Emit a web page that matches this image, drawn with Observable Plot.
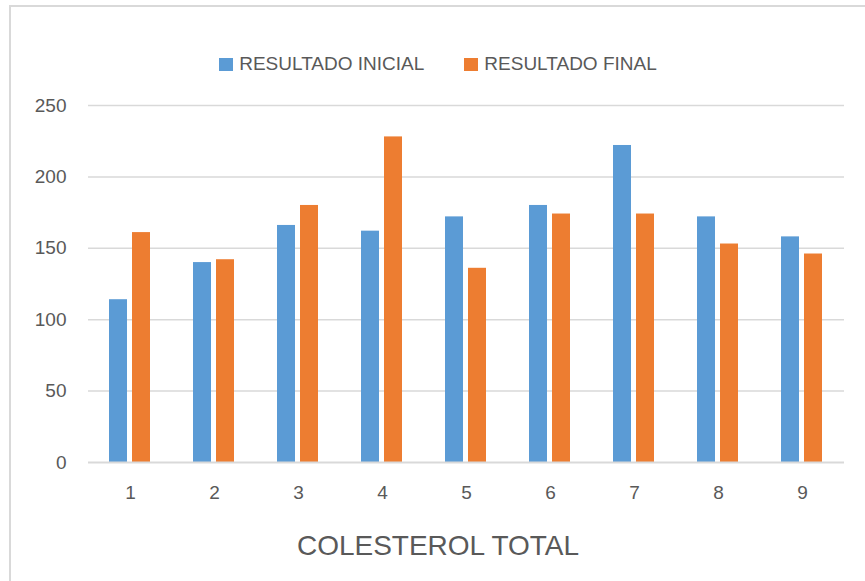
<!DOCTYPE html>
<html>
<head>
<meta charset="utf-8">
<script src="https://cdn.jsdelivr.net/npm/d3@7"></script>
<script src="https://cdn.jsdelivr.net/npm/@observablehq/plot@0.6"></script>
<style>
  html, body { margin: 0; padding: 0; background: #fff; overflow: hidden; width: 865px; height: 581px; }
  #frame {
    position: absolute; left: 9px; top: 5px;
    width: 854px; height: 600px;
    border: 2px solid #D9D9D9;
    background: #fff;
    font-family: "Liberation Sans", Arial, sans-serif;
    color: #595959;
  }
  #legend {
    height: 78px; box-sizing: border-box; padding-top: 46px;
    display: flex; justify-content: center; align-items: flex-start;
    font-size: 19px; line-height: 22px;
  }
  .item { display: flex; align-items: center; }
  .item + .item { margin-left: 40px; }
  .sw { width: 14px; height: 13px; margin-right: 6px; }
  #title { height: 62px; line-height: 62px; text-align: center; font-size: 28px; }
</style>
</head>
<body>
<div id="frame">
  <div id="legend"></div>
  <div id="chart"></div>
  <div id="title">COLESTEROL TOTAL</div>
</div>
<script>
const categories = ["1", "2", "3", "4", "5", "6", "7", "8", "9"];
const seriesNames = ["RESULTADO INICIAL", "RESULTADO FINAL"];
const inicial = [114, 140, 166, 162, 172, 180, 222, 172, 158];
const final = [161, 142, 180, 228, 136, 174, 174, 153, 146];
const yTicks = [0, 50, 100, 150, 200, 250];
const colors = ["#5B9BD5", "#ED7D31"];

const rows = [];
categories.forEach((c, i) => {
  rows.push({cat: c, series: seriesNames[0], value: inicial[i]});
  rows.push({cat: c, series: seriesNames[1], value: final[i]});
});

// legend
const legend = document.getElementById("legend");
seriesNames.forEach((s, i) => {
  const it = document.createElement("div");
  it.className = "item";
  const sw = document.createElement("div");
  sw.className = "sw";
  sw.style.background = colors[i];
  const t = document.createElement("span");
  t.textContent = s;
  it.appendChild(sw); it.appendChild(t);
  legend.appendChild(it);
});

const chart = Plot.plot({
  width: 854,
  height: 430,
  marginLeft: 75,
  marginRight: 19,
  marginTop: 20,
  marginBottom: 53,
  style: {fontFamily: "'Liberation Sans', Arial, sans-serif", fontSize: "19px", color: "#595959", background: "transparent", overflow: "visible"},
  fx: {domain: categories, padding: 0, axis: "bottom", tickSize: 0, tickPadding: 23, label: null},
  x: {domain: seriesNames, paddingInner: 0.2, paddingOuter: 0.86, axis: null},
  y: {domain: [0, 250], ticks: yTicks, tickSize: 0, tickPadding: 22, label: null, tickFormat: d => String(d)},
  color: {domain: seriesNames, range: colors},
  marks: [
    Plot.ruleY(yTicks.filter(d => d > 0), {stroke: "#D9D9D9", strokeWidth: 1.5}),
    Plot.barY(rows, {fx: "cat", x: "series", y: "value", fill: "series"}),
    Plot.ruleY([0], {stroke: "#D9D9D9", strokeWidth: 2})
  ]
});
document.getElementById("chart").appendChild(chart);
</script>
</body>
</html>
